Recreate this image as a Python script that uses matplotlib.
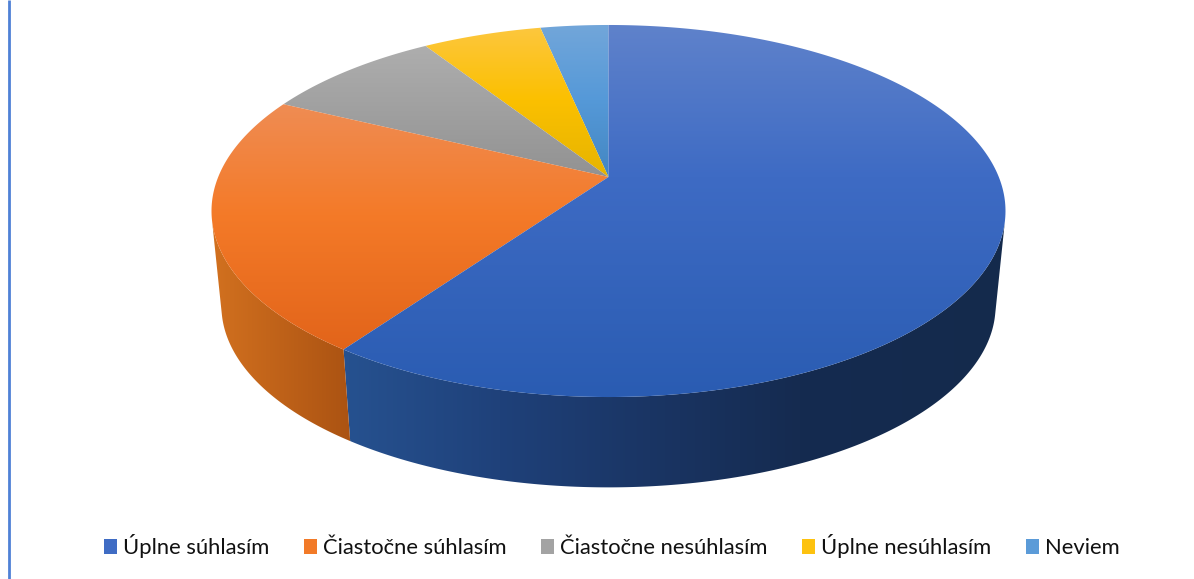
import numpy as np
import matplotlib
matplotlib.use("Agg")
import matplotlib.pyplot as plt
from matplotlib.patches import Polygon, Patch
from matplotlib.colors import to_rgb

categories = ["Úplne súhlasím", "Čiastočne súhlasím", "Čiastočne nesúhlasím", "Úplne nesúhlasím", "Neviem"]
values = [59.8, 22.4, 8.7, 5.8, 3.3]
legend_colors = ["#3f6cc4", "#f27a28", "#a3a3a3", "#fdc20f", "#5b9bd8"]

# vertical shading of the top face: (pixel row, colour)
top_shades = [
    [(25, "#5f82cb"), (177, "#3e6bc4"), (397, "#2a5cb2")],
    [(100, "#ef8d55"), (215, "#f47a28"), (350, "#e2641a")],
    [(45, "#aeaeae"), (177, "#929292")],
    [(25, "#fdc740"), (100, "#fbc000"), (177, "#e6b400")],
    [(25, "#72a6da"), (100, "#5599d8"), (177, "#4386c2")],
]
# horizontal shading of the side wall: (pixel column, colour)
side_shades = [
    [(350, "#26518f"), (500, "#1f417a"), (650, "#1a3564"), (800, "#152b50"), (1005, "#142a4c")],
    [(212, "#d2711f"), (270, "#c2641a"), (350, "#ab5312")],
    None, None, None,
]

W, H = 1194, 579
CX, APEX_Y, ELL_Y = 608.5, 177.0, 211.0
K, A, B = -0.1828, 390.3, 179.8
SCALE, FLOOR_Y = 0.975, 306.0


def top_rim(theta):
    u, v = np.sin(theta), -np.cos(theta)
    w = 1 + K * v
    return CX + A * u / w, APEX_Y + B * v / w


def floor_rim(theta):
    x, y = top_rim(theta)
    return CX + SCALE * (x - CX), FLOOR_Y + SCALE * (y - ELL_Y)


def shade(stops, q):
    pos = [s[0] for s in stops]
    rgb = np.array([to_rgb(s[1]) for s in stops])
    return np.stack([np.interp(q, pos, rgb[:, i]) for i in range(3)], axis=-1)


def fill_gradient(pts, grad, zorder):
    poly = Polygon(pts, closed=True, facecolor="none", edgecolor="none")
    ax.add_patch(poly)
    im = ax.imshow(grad, extent=(0, W, H, 0), aspect="auto", interpolation="bilinear", zorder=zorder)
    im.set_clip_path(poly)


# where the wall silhouette leaves the rim: tangents through the centre of scaling
vanish_y = (FLOOR_Y - SCALE * ELL_Y) / (1 - SCALE)
grid = np.linspace(0, 2 * np.pi, 7201)
gx, gy = top_rim(grid)
slope = (gx - CX) / (vanish_y - gy)
visible = (grid[np.argmax(slope)], grid[np.argmin(slope)])

fig = plt.figure(figsize=(W / 100, H / 100), dpi=100)
ax = fig.add_axes([0, 0, 1, 1])
ax.axis("off")

ax.plot([8.7, 8.7], [0, H], color="#4f81d6", lw=2.0, solid_capstyle="butt", zorder=1)

edges = np.radians(np.concatenate([[0], np.cumsum(values)]) / np.sum(values) * 360)

# side walls
cols = np.arange(0, W) + 0.5
for i, stops in enumerate(side_shades):
    if stops is None:
        continue
    th = np.linspace(max(edges[i], visible[0]), min(edges[i + 1], visible[1]), 300)
    xt, yt = top_rim(th)
    xb, yb = floor_rim(th)
    pts = np.column_stack([np.r_[xt, xb[::-1]], np.r_[yt, yb[::-1]]])
    fill_gradient(pts, shade(stops, cols)[None, :, :], 2 + i * 0.01)

# top face wedges, the largest last
rows = np.arange(0, H) + 0.5
for i in reversed(range(len(values))):
    th = np.linspace(edges[i], edges[i + 1], 300)
    x, y = top_rim(th)
    pts = np.column_stack([np.r_[CX, x], np.r_[APEX_Y, y]])
    fill_gradient(pts, shade(top_shades[i], rows)[:, None, :], 3 + (len(values) - i) * 0.01)

ax.set_xlim(0, W)
ax.set_ylim(H, 0)

handles = [Patch(facecolor=c, edgecolor="none") for c in legend_colors]
ax.legend(handles, categories, ncol=5, loc="center", bbox_to_anchor=(612 / W, 1 - 546.5 / H),
          frameon=False, prop={"family": "Lato", "size": 15.85}, labelcolor="#111111",
          handlelength=0.58, handleheight=0.68, handletextpad=0.3, columnspacing=1.55,
          borderpad=0, borderaxespad=0)

fig.savefig("out.png", dpi=100, facecolor="white")
